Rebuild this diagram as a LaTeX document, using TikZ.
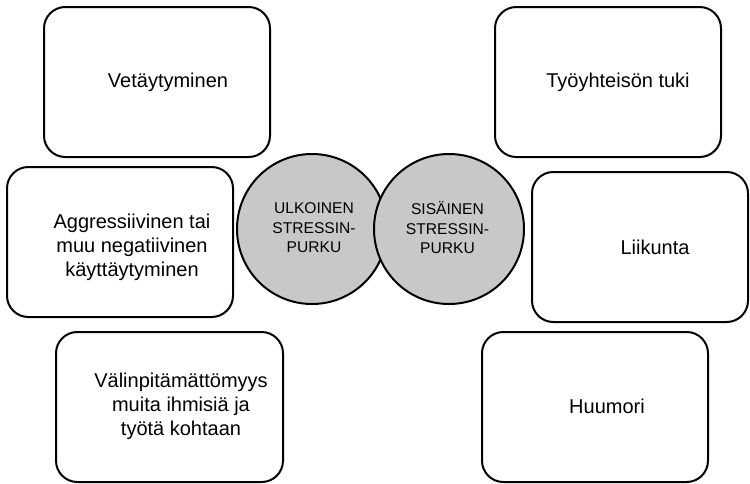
\documentclass[tikz,border=0pt]{standalone}
\usepackage{fontspec}
\setmainfont{Liberation Sans}
\definecolor{circfill}{RGB}{200,200,200}
\begin{document}
\begin{tikzpicture}[x=0.75pt,y=-0.75pt,
  box/.style={draw=black, line width=1.5pt, rounded corners=16pt,
    minimum width=169.5pt, minimum height=112.5pt, inner sep=0pt},
  boxtext/.style={align=center, font=\fontsize{15pt}{18pt}\selectfont, inner sep=0pt},
  circ/.style={circle, draw=black, line width=1.5pt, fill=circfill,
    minimum size=112.5pt, inner sep=0pt},
  circtext/.style={align=center, font=\fontsize{11.7pt}{14.6pt}\selectfont, inner sep=0pt}]
\useasboundingbox (0,0) rectangle (750,483);

% outer boxes, left column
\node[box] (b1) at (157,82) {};
\node[boxtext] (t1) at (168,82) {Vetäytyminen};
\node[box] (b3) at (120,242) {};
\node[boxtext] (t3) at (132,247) {Aggressiivinen tai\\muu negatiivinen\\käyttäytyminen};
\node[box, minimum width=170.25pt] (b5) at (169.5,407) {};
\node[boxtext] (t5) at (181,406) {Välinpitämättömyys\\muita ihmisiä ja\\työtä kohtaan};

% outer boxes, right column
\node[box] (b2) at (608,82) {};
\node[boxtext] (t2) at (618,82) {Työyhteisön tuki};
\node[box, minimum width=162pt] (b4) at (640,247) {};
\node[boxtext] (t4) at (655,247) {Liikunta};
\node[box] (b6) at (595,407) {};
\node[boxtext] (t6) at (607,406) {Huumori};

% central circles
\node[circ] (c1) at (312,229) {};
\node[circtext] (ct1) at (314,228) {ULKOINEN\\STRESSIN-\\PURKU};
\node[circ] (c2) at (449,229) {};
\node[circtext] (ct2) at (447.5,228) {SISÄINEN\\STRESSIN-\\PURKU};
\end{tikzpicture}
\end{document}
